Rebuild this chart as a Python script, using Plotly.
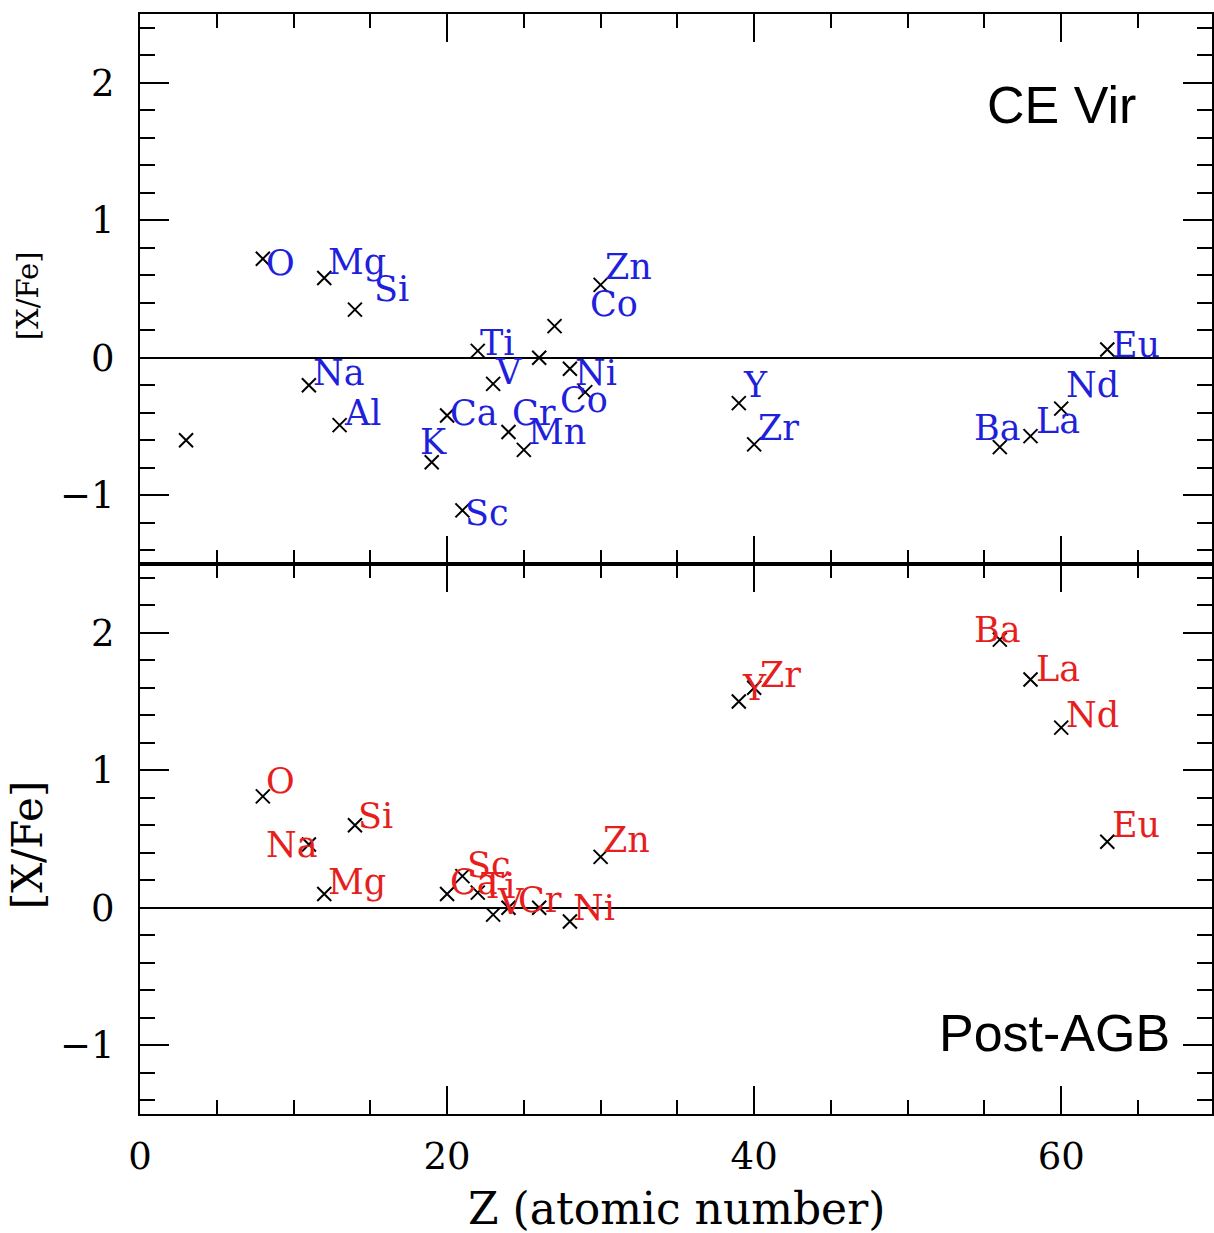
import plotly.graph_objects as go
from plotly.subplots import make_subplots

# ---------------- data ----------------
# CE Vir (top panel): measured abundances
ce_z = [3, 8, 11, 12, 13, 14, 19, 20, 21, 22, 23, 24, 25, 26, 27, 28, 29, 30, 39, 40, 56, 58, 60, 63]
ce_xfe = [-0.60, 0.72, -0.20, 0.58, -0.49, 0.35, -0.76, -0.42, -1.11, 0.05, -0.19, -0.54, -0.67,
          0.00, 0.23, -0.08, -0.25, 0.53, -0.33, -0.63, -0.65, -0.57, -0.37, 0.06]

# CE Vir element labels and where they sit (data units)
ce_labels = ["O", "Mg", "Si", "Na", "Al", "K", "Ca", "Sc", "Ti", "V", "Cr", "Mn", "Ni", "Co", "Co",
             "Zn", "Y", "Zr", "Ba", "La", "Nd", "Eu"]
ce_label_z = [8.13, 12.16, 15.15, 11.18, 13.20, 18.20, 20.15, 21.13, 22.10, 23.08, 24.18, 25.22,
              28.28, 27.30, 29.25, 30.23, 39.20, 40.17, 54.28, 58.31, 60.26, 63.25]
ce_label_y = [0.69, 0.70, 0.50, -0.11, -0.40, -0.61, -0.40, -1.13, 0.11, -0.10, -0.40, -0.54,
              -0.11, -0.31, 0.39, 0.66, -0.20, -0.51, -0.51, -0.46, -0.20, 0.09]

# Post-AGB (bottom panel)
agb_z = [8, 11, 12, 14, 20, 21, 22, 23, 24, 26, 28, 30, 39, 40, 56, 58, 60, 63]
agb_xfe = [0.81, 0.46, 0.10, 0.60, 0.10, 0.23, 0.11, -0.05, 0.00, 0.00, -0.10, 0.37,
           1.50, 1.60, 1.95, 1.66, 1.31, 0.48]

agb_labels = ["O", "Na", "Mg", "Si", "Ca", "Sc", "Ti", "V", "Cr", "Ni", "Zn", "Y", "Zr",
              "Ba", "La", "Nd", "Eu"]
agb_label_z = [8.13, 8.13, 12.16, 14.11, 20.15, 21.26, 22.17, 23.21, 24.57, 28.15, 30.10,
               39.13, 40.30, 54.28, 58.31, 60.26, 63.25]
agb_label_y = [0.92, 0.46, 0.19, 0.67, 0.19, 0.31, 0.16, 0.04, 0.06, 0.00, 0.49,
               1.60, 1.69, 2.02, 1.74, 1.40, 0.60]

panel_titles = ["CE Vir", "Post-AGB"]
x_title = "Z (atomic number)"
y_title = "[X/Fe]"
x_range = [0, 69.82]
y_range = [-1.5, 2.5]

# ---------------- style ----------------
SERIF = "DejaVu Serif"
SANS = "Liberation Sans, Arial, sans-serif"
BLUE = "#1f1fdc"
RED = "#e61e1e"

fig = make_subplots(rows=2, cols=1, shared_xaxes=True, vertical_spacing=0)

marker_style = dict(symbol="x-thin", size=14, color="black", line=dict(width=2, color="black"))
fig.add_trace(go.Scatter(x=ce_z, y=ce_xfe, mode="markers", marker=marker_style,
                         showlegend=False, hoverinfo="skip"), row=1, col=1)
fig.add_trace(go.Scatter(x=agb_z, y=agb_xfe, mode="markers", marker=marker_style,
                         showlegend=False, hoverinfo="skip"), row=2, col=1)

annotations = []
for t, xz, yv in zip(ce_labels, ce_label_z, ce_label_y):
    annotations.append(dict(x=xz, y=yv, xref="x", yref="y", text=t, showarrow=False,
                            xanchor="left", yanchor="middle", borderpad=0,
                            font=dict(family=SERIF, size=35, color=BLUE)))
for t, xz, yv in zip(agb_labels, agb_label_z, agb_label_y):
    annotations.append(dict(x=xz, y=yv, xref="x2", yref="y2", text=t, showarrow=False,
                            xanchor="left", yanchor="middle", borderpad=0,
                            font=dict(family=SERIF, size=35, color=RED)))

# panel titles
annotations.append(dict(x=60.0, y=1.84, xref="x", yref="y", text=panel_titles[0], showarrow=False,
                        xanchor="center", yanchor="middle",
                        font=dict(family=SANS, size=52, color="black")))
annotations.append(dict(x=59.55, y=-0.91, xref="x2", yref="y2", text=panel_titles[1], showarrow=False,
                        xanchor="center", yanchor="middle",
                        font=dict(family=SANS, size=52, color="black")))

# y-axis titles
plot_w = 1214 - 140
plot_h = 1233 - 14 - 119
annotations.append(dict(x=(28 - 140) / plot_w, y=(1114 - 296) / plot_h, xref="paper", yref="paper",
                        text=y_title, showarrow=False, textangle=-90,
                        xanchor="center", yanchor="middle",
                        font=dict(family=SERIF, size=29, color="black")))
annotations.append(dict(x=(27 - 140) / plot_w, y=(1114 - 845) / plot_h, xref="paper", yref="paper",
                        text=y_title, showarrow=False, textangle=-90,
                        xanchor="center", yanchor="middle",
                        font=dict(family=SERIF, size=42, color="black")))

# x-axis title
annotations.append(dict(x=0.5, y=(1114 - 1208) / plot_h, xref="paper", yref="paper",
                        text=x_title, showarrow=False, xanchor="center", yanchor="middle",
                        font=dict(family=SERIF, size=44, color="black")))

axis_common = dict(showline=True, linecolor="black", linewidth=2, mirror="ticks",
                   ticks="inside", tickcolor="black", tickwidth=2, showgrid=False)

for r in (1, 2):
    fig.update_xaxes(range=x_range, tickmode="linear", tick0=0, dtick=20, ticklen=28,
                     minor=dict(dtick=5, ticklen=14, ticks="inside", tickcolor="black",
                                tickwidth=2, showgrid=False),
                     zeroline=False, showticklabels=(r == 2),
                     tickfont=dict(family=SERIF, size=37, color="black"),
                     ticklabelstandoff=9,
                     row=r, col=1, **axis_common)
    fig.update_yaxes(range=y_range, tickmode="linear", tick0=0, dtick=1, ticklen=29,
                     minor=dict(dtick=0.2, ticklen=15, ticks="inside", tickcolor="black",
                                tickwidth=2, showgrid=False),
                     zeroline=True, zerolinecolor="black", zerolinewidth=2,
                     tickfont=dict(family=SERIF, size=37, color="black"),
                     ticklabelstandoff=16,
                     row=r, col=1, **axis_common)

for a in annotations:
    fig.add_annotation(**a)

fig.update_layout(width=1214, height=1233, margin=dict(l=140, r=0, t=14, b=119),
                  paper_bgcolor="white", plot_bgcolor="white")

fig.write_html("out.html")
